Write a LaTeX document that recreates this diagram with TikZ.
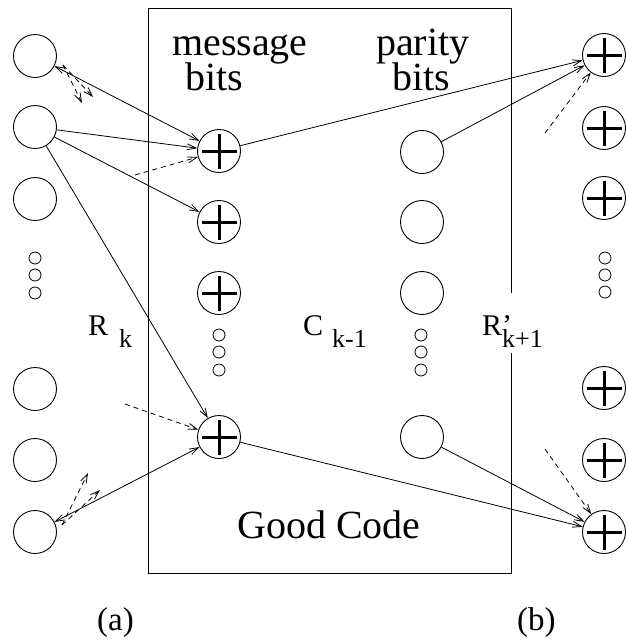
\documentclass[tikz,border=0pt]{standalone}
\usepackage{fontspec}
\setmainfont{Liberation Serif}
\usetikzlibrary{arrows.meta,calc}
\begin{document}
\begin{tikzpicture}[x=1pt,y=-1pt,
  bit/.style={circle,draw,line width=0.9pt,minimum size=43pt,inner sep=0pt},
  xor/.style={bit,path picture={
     \draw[line width=3pt] ([xshift=4pt]path picture bounding box.west) -- ([xshift=-4pt]path picture bounding box.east);
     \draw[line width=3pt] ([yshift=-4pt]path picture bounding box.north) -- ([yshift=4pt]path picture bounding box.south);}},
  dotc/.style={circle,draw,line width=0.8pt,minimum size=12pt,inner sep=0pt},
  lbl/.style={inner sep=0pt,anchor=base west,font=\fontsize{40}{44}\selectfont},
  lblm/.style={inner sep=0pt,anchor=base west,font=\fontsize{30}{34}\selectfont},
  lbls/.style={inner sep=0pt,anchor=base west,font=\fontsize{26}{30}\selectfont},
  lbll/.style={inner sep=0pt,anchor=base west,font=\fontsize{33}{36}\selectfont},
  conn/.style={line width=0.8pt,>={Straight Barb[length=9pt,width=6pt]}},
  dconn/.style={conn,dashed,dash pattern=on 5pt off 4pt}
]
\useasboundingbox (0,0) rectangle (625,641);
% box
\draw[line width=0.9pt] (511,293) -- (511,8) -- (148,8) -- (148,573) -- (511,573) -- (511,353);
% left column
\node[bit] (L1) at (35,56) {};
\node[bit] (L2) at (35,127) {};
\node[bit] (L3) at (35,199) {};
\node[dotc] (ld1) at (35,258) {};
\node[dotc] (ld2) at (35,275) {};
\node[dotc] (ld3) at (35,293) {};
\node[bit] (L5) at (35,389) {};
\node[bit] (L6) at (35,460) {};
\node[bit] (L7) at (35,532) {};
% message bits
\node[xor] (M1) at (219,151) {};
\node[xor] (M2) at (219,222) {};
\node[xor] (M3) at (219,293) {};
\node[dotc] (md1) at (219,335) {};
\node[dotc] (md2) at (219,352) {};
\node[dotc] (md3) at (219,370) {};
\node[xor] (M4) at (219,437) {};
% parity bits
\node[bit] (P1) at (422,152) {};
\node[bit] (P2) at (422,222) {};
\node[bit] (P3) at (422,293) {};
\node[dotc] (pd1) at (421,335) {};
\node[dotc] (pd2) at (421,352) {};
\node[dotc] (pd3) at (421,370) {};
\node[bit] (P4) at (422,437) {};
% right column
\node[xor] (R1) at (604,55) {};
\node[xor] (R2) at (604,128) {};
\node[xor] (R3) at (604,198) {};
\node[dotc] (rd1) at (605,258) {};
\node[dotc] (rd2) at (605,275) {};
\node[dotc] (rd3) at (605,292) {};
\node[xor] (R5) at (604,388) {};
\node[xor] (R6) at (604,460) {};
\node[xor] (R7) at (604,532) {};
% texts
\node[lbl] (msg) at (172,55) {message};
\node[lbl] (mbits) at (185,90) {bits};
\node[lbl] (par) at (376,55) {parity};
\node[lbl] (pbits) at (392,90) {bits};
\node[lbl] (good) at (237,538) {Good Code};
\node[lblm] (Rk) at (88,335) {R};
\node[lbls] (Rks) at (119,347) {k};
\node[lblm] (Ck) at (303,335) {C};
\node[lbls] (Cks) at (332,347) {k-1};
\node[lblm] (Rp) at (482,335) {R’};
\node[lbls] (Rps) at (502,347) {k+1};
\node[lbll] (la) at (97,630) {(a)};
\node[lbll] (lb) at (517,630) {(b)};
% free ends
\coordinate (d1a) at (63,65);
\coordinate (d1b) at (82,103);
\coordinate (d1c) at (93,97);
\coordinate (d7a) at (62,525);
\coordinate (d7b) at (88,473);
\coordinate (d7c) at (100,490);
\coordinate (dm1) at (135,175);
\coordinate (dm4) at (125,404);
\coordinate (dr1) at (545,133);
\coordinate (dr7) at (545,449);
% connectors
\draw[conn,<->] (L1) -- (M1);
\draw[conn,->] (L2) -- (M1);
\draw[conn,->] (L2) -- (M2);
\draw[conn,->] (L2) -- (M4);
\draw[conn,<->] (L7) -- (M4);
\draw[conn,->] (M1) -- (R1);
\draw[conn,->] (P1) -- (R1);
\draw[conn,->] (M4) -- (R7);
\draw[conn,->] (P4) -- (R7);
\draw[dconn,->] (dm1) -- (M1);
\draw[dconn,->] (dm4) -- (M4);
\draw[dconn,->] (dr1) -- (R1);
\draw[dconn,->] (dr7) -- (R7);
\draw[dconn,->] (d1a) -- (d1b);
\draw[dconn,->] (d1a) -- (d1c);
\draw[dconn,->] (d7a) -- (d7b);
\draw[dconn,->] (d7a) -- (d7c);
\end{tikzpicture}
\end{document}
